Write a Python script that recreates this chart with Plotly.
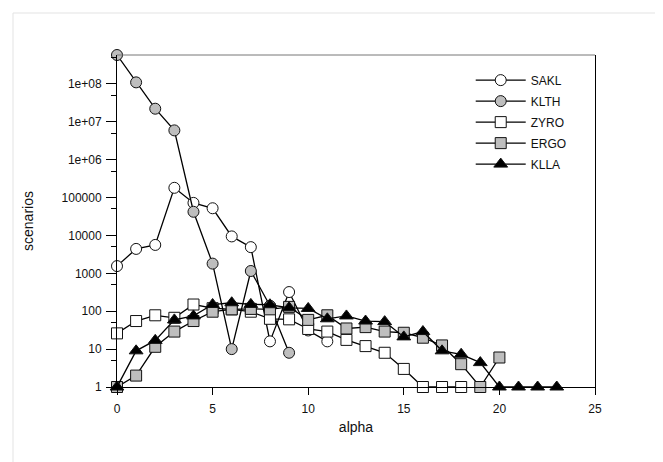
import math
import plotly.graph_objects as go

# ---- data ----
alpha_sakl = list(range(0, 12))
sakl = [1550, 4400, 5600, 180000, 72000, 52000, 9400, 4900, 16, 320, 31, 16]

alpha_klth = list(range(0, 10))
klth = [5.75e8, 1.09e8, 2.2e7, 5.9e6, 42000, 1800, 10, 1150, 140, 8]

alpha_zyro = list(range(0, 19))
zyro = [26, 55, 78, 67, 150, 120, 112, 97, 63, 61, 34, 29, 17.5, 12, 8, 3, 1, 1, 1]

alpha_ergo = list(range(0, 21))
ergo = [1, 2, 11.5, 29, 55, 97, 112, 115, 112, 130, 59, 78, 35, 38, 29, 27, 20, 12.5, 4, 1, 6]

alpha_klla = list(range(0, 24))
klla = [1, 9, 17, 59, 75, 150, 167, 151, 148, 123, 118, 63, 75, 55, 53, 21, 29, 9, 7.3, 4.4, 1, 1, 1, 1]

y_tickvals = [1, 10, 100, 1000, 10000, 100000, 1e6, 1e7, 1e8]
y_ticktext = ["1", "10", "100", "1000", "10000", "100000", "1e+06", "1e+07", "1e+08"]
y_minor = [5, 50, 500, 5000, 50000, 500000, 5e6, 5e7, 5e8]
x_tickvals = [0, 5, 10, 15, 20, 25]

FONT = "Liberation Sans, Arial, Helvetica, sans-serif"
GRAY = "#bebebe"

series = [
    ("SAKL", alpha_sakl, sakl, "circle", "white", 11),
    ("KLTH", alpha_klth, klth, "circle", GRAY, 11),
    ("ZYRO", alpha_zyro, zyro, "square", "white", 11),
    ("ERGO", alpha_ergo, ergo, "square", GRAY, 11),
    ("KLLA", alpha_klla, klla, "triangle-up", "black", 12),
]

fig = go.Figure()
for name, xs, ys, sym, fill, size in series:
    fig.add_trace(go.Scatter(
        x=xs, y=ys, name=name, legendgroup=name, mode="lines+markers",
        line=dict(color="black", width=1.3),
        marker=dict(symbol=sym, size=size, color=fill,
                    line=dict(color="#111111", width=1)),
        cliponaxis=False,
    ))

L, R, T, B = 109, 76, 47, 83
W, H = 663, 462
pw, ph = W - L - R, H - T - B

def px_x(p):
    return (p - L) / pw

def px_y(p):
    return (H - B - p) / ph

fig.update_layout(
    width=W, height=H,
    margin=dict(l=L, r=R, t=T, b=B),
    template="none",
    paper_bgcolor="white", plot_bgcolor="white",
    font=dict(family=FONT, size=12, color="#111111"),
    showlegend=True,
    legend=dict(x=0.74, y=0.968, xanchor="left", yanchor="top",
                bgcolor="rgba(0,0,0,0)", borderwidth=0,
                font=dict(family=FONT, size=12, color="#111111"),
                itemwidth=50, tracegroupgap=2),
    xaxis=dict(range=[0, 25], tickvals=x_tickvals, ticks="outside", ticklen=7,
               tickcolor="black", showline=True, linecolor="black", linewidth=1,
               showgrid=False, zeroline=False, ticklabelstandoff=4,
               tickfont=dict(size=12),
               title=dict(text="alpha", font=dict(family=FONT, size=14), standoff=6)),
    yaxis=dict(type="log", range=[0, math.log10(max(klth))],
               tickvals=y_tickvals, ticktext=y_ticktext,
               ticks="outside", ticklen=10, tickcolor="black",
               showline=True, linecolor="black", linewidth=1, mirror=True,
               showgrid=False, zeroline=False, ticklabelstandoff=2,
               tickfont=dict(size=12),
               minor=dict(tickvals=y_minor, ticks="outside", ticklen=5, tickcolor="black"),
               title=dict(text="scenarios", font=dict(family=FONT, size=14), standoff=24)),
    shapes=[
        dict(type="line", xref="paper", yref="paper", x0=0, x1=1, y0=1, y1=1,
             line=dict(color="#777777", width=1)),
        dict(type="rect", xref="paper", yref="paper",
             x0=px_x(5), x1=px_x(655), y0=px_y(458), y1=px_y(5),
             line=dict(color="#e3e3e3", width=1), layer="below"),
    ],
)

fig.write_html("out.html")
